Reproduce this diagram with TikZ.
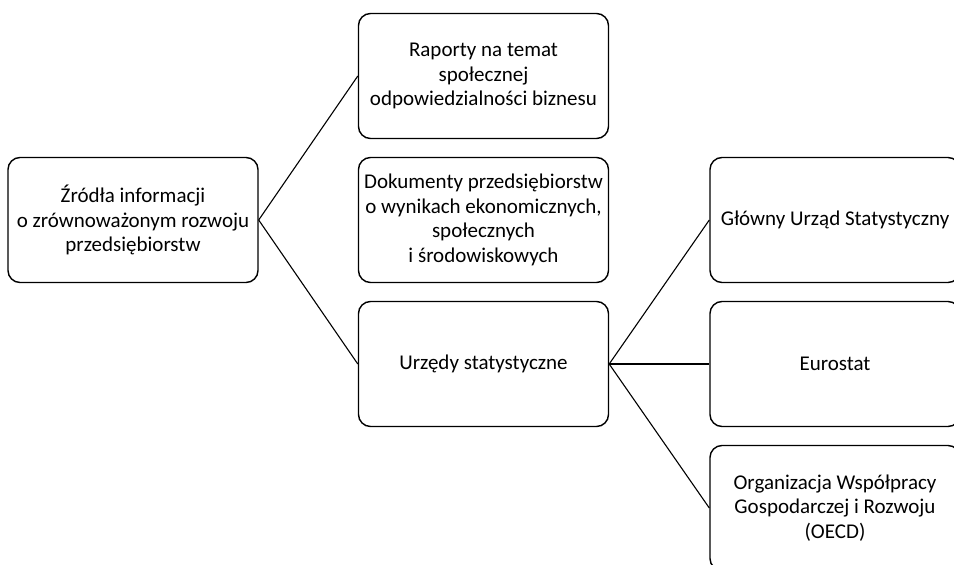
\documentclass[tikz,border=0pt]{standalone}
\usepackage{fontspec}
\setmainfont{Carlito}
\begin{document}
\begin{tikzpicture}[x=1pt,y=-1pt,
  box/.style={draw=black, line width=1.4pt, rounded corners=12pt,
    minimum width=250pt, minimum height=125pt, inner sep=0pt,
    align=center, font=\fontsize{21}{24.5}\selectfont},
  link/.style={draw=black, line width=1.1pt}]
  \useasboundingbox (0,0) rectangle (954,565);
  \clip (0,0) rectangle (954,565);

  % root
  \node[box] (root) at (133,220) {Źródła informacji\\o zrównoważonym rozwoju\\przedsiębiorstw};

  % middle column
  \node[box] (rap) at (483.5,76) {Raporty na temat\\społecznej\\odpowiedzialności biznesu};
  \node[box] (dok) at (483.5,220) {Dokumenty przedsiębiorstw\\o wynikach ekonomicznych,\\społecznych\\i środowiskowych};
  \node[box] (urz) at (483.5,364) {Urzędy statystyczne};

  % right column
  \node[box] (gus) at (835,220) {Główny Urząd Statystyczny};
  \node[box] (eur) at (835,364) {Eurostat};
  \node[box] (oecd) at (835,508) {Organizacja Współpracy\\Gospodarczej i Rozwoju\\(OECD)};

  % connectors
  \draw[link] (root.east) -- (rap.west);
  \draw[link] (root.east) -- (urz.west);
  \draw[link] (urz.east) -- (gus.west);
  \draw[link] (urz.east) -- (eur.west);
  \draw[link] (urz.east) -- (oecd.west);
\end{tikzpicture}
\end{document}
